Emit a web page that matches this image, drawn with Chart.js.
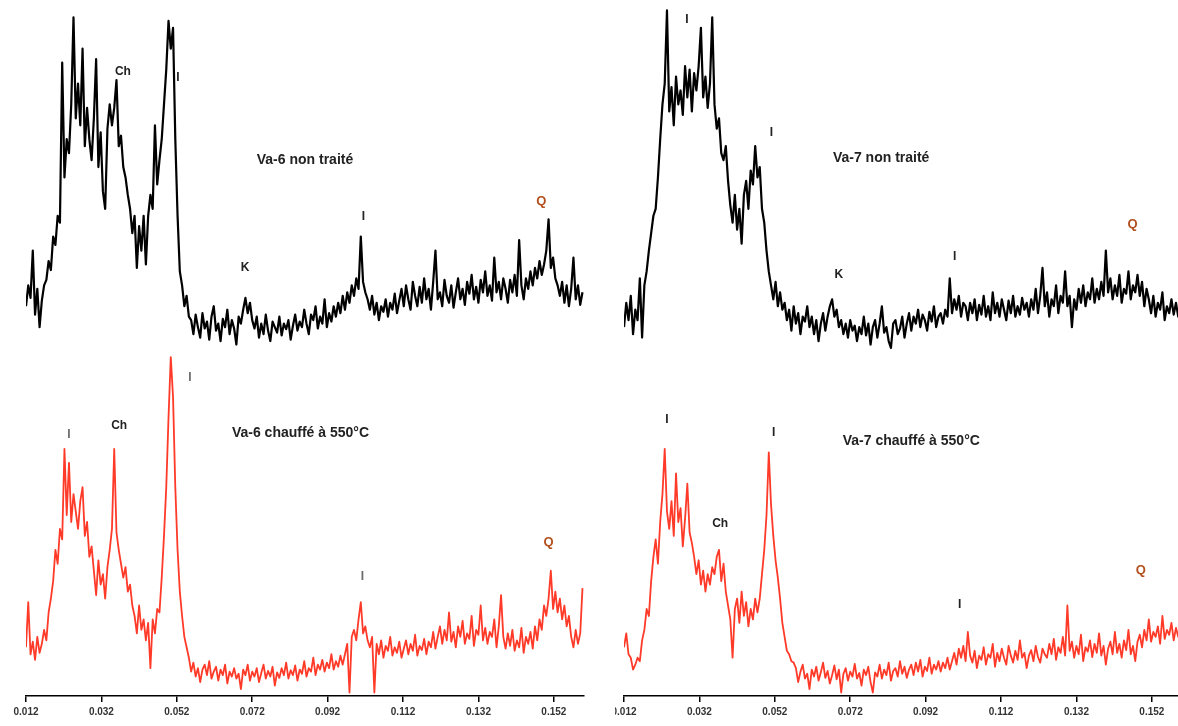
<!DOCTYPE html>
<html lang="fr">
<head>
<meta charset="utf-8">
<title>Va-6 / Va-7</title>
<script src="https://cdn.jsdelivr.net/npm/chart.js@4.4.1/dist/chart.umd.min.js"></script>
<style>
    html, body { margin: 0; padding: 0; background: #fff; overflow: hidden; }
    #left { position: absolute; left: 0; top: 0; }
    #rightClip { position: absolute; left: 615px; top: 0; width: 563px; height: 726px; overflow: hidden; }
    #right { position: absolute; left: -17px; top: 0; }
</style>
</head>
<body>
<canvas id="left" width="590" height="726"></canvas>
<div id="rightClip"><canvas id="right" width="590" height="726"></canvas></div>
<script>
"use strict";

// sampling grid of the scans (2-theta scale of the original plot)
const X_START = 0.012;
const X_STEP = 0.0006;
const X_MIN = 0.012;
const X_MAX = 0.160;
const TICK_VALUES = [0.012, 0.032, 0.052, 0.072, 0.092, 0.112, 0.132, 0.152];

// --- Va-6, untreated (black)
const VA6_RAW = [
    560, 590, 572, 640, 548, 585, 530, 568, 590, 598,
    625, 612, 660, 648, 690, 680, 910, 745, 800, 780,
    850, 975, 830, 880, 820, 930, 790, 845, 800, 770,
    830, 915, 760, 810, 725, 700, 815, 850, 820, 845,
    885, 790, 805, 760, 745, 720, 700, 665, 690, 615,
    675, 640, 690, 620, 690, 720, 700, 820, 735, 770,
    800, 850, 900, 970, 930, 960, 800, 690, 610, 590,
    560, 575, 545, 540, 520, 548, 530, 515, 550, 528,
    538, 512, 545, 560, 525, 535, 510, 542, 530, 555,
    520, 540, 528, 505, 545, 535, 555, 572, 550, 565,
    540, 528, 545, 515, 535, 520, 548, 525, 510, 538,
    530, 522, 545, 518, 535, 527, 540, 512, 532, 548,
    525, 538, 530, 555, 535, 520, 548, 540, 560, 528,
    545, 535, 570, 530, 550, 538, 560, 545, 565, 550,
    575, 555, 580, 565, 590, 575, 600, 585, 660, 595,
    580, 570, 555, 575, 548, 565, 540, 560, 552, 570,
    545, 565, 555, 578, 550, 568, 585, 560, 590, 570,
    555, 595, 575, 560, 588, 565, 600, 570, 585, 555,
    595, 640, 570, 580, 560, 598, 575, 565, 590, 558,
    580, 600, 570, 585, 562, 595, 578, 605, 570, 588,
    565, 598, 580, 610, 575, 590, 568, 630, 580, 595,
    570, 600, 585, 565, 598, 580, 605, 575, 655, 590,
    570, 600, 585, 610, 590, 615, 600, 625, 605, 620,
    640, 685, 615, 630, 600, 590, 575, 595, 565, 590,
    560, 585, 630, 570, 590, 562, 580,
];

// --- Va-6, heated to 550 C (red)
const VA6_HEATED = [
    70, 135, 60, 78, 52, 85, 62, 75, 95, 80,
    120, 140, 165, 210, 190, 240, 225, 355, 260, 335,
    250, 290, 265, 240, 280, 300, 230, 250, 200, 215,
    180, 145, 195, 160, 175, 140, 185, 210, 240, 355,
    235, 210, 190, 170, 185, 150, 160, 130, 115, 90,
    130, 95, 110, 80, 105, 40, 110, 90, 125, 120,
    170, 230, 300, 400, 487, 430, 300, 210, 150, 115,
    85, 70, 55, 35, 48, 28, 40, 20, 38, 45,
    30, 50, 25, 35, 42, 22, 38, 30, 45, 18,
    35, 28, 40, 25, 32, 10, 38, 30, 45, 22,
    35, 28, 40, 20, 33, 45, 25, 36, 28, 42,
    15, 34, 26, 40, 30, 48, 25, 37, 30, 44,
    22, 38, 32, 50, 28, 40, 35, 55, 30, 45,
    38, 52, 35, 48, 40, 60, 38, 50, 42, 58,
    45, 60, 75, 5, 85, 95, 80, 110, 135, 90,
    100, 80, 70, 85, 5, 75, 60, 80, 55, 72,
    65, 85, 58, 70, 62, 78, 55, 68, 80, 60,
    75, 65, 88, 58, 72, 66, 82, 60, 78, 70,
    92, 68, 85, 100, 75, 95, 80, 120, 78, 92,
    70, 100, 85, 108, 75, 90, 82, 115, 72, 95,
    88, 130, 80, 98, 75, 92, 85, 110, 70, 100,
    145, 85, 68, 90, 72, 95, 65, 80, 70, 98,
    62, 85, 75, 92, 68, 100, 80, 110, 95, 130,
    115, 140, 180, 125, 150, 120, 140, 110, 130, 100,
    115, 85, 70, 95, 75, 90, 155,
];

// --- Va-7, untreated (black)
const VA7_RAW = [
    530, 565, 540, 575, 520, 555, 540, 600, 515, 590,
    610, 640, 665, 690, 700, 745, 800, 850, 880, 985,
    840, 875, 820, 890, 850, 870, 835, 905, 860, 900,
    840, 895, 870, 905, 960, 860, 890, 845, 880, 975,
    850, 815, 830, 780, 770, 790, 740, 705, 680, 720,
    670, 700, 650, 720, 740, 700, 755, 735, 790, 745,
    760, 700, 680, 640, 610, 590, 570, 595, 560, 580,
    555, 565, 540, 555, 525, 560, 535, 550, 520, 545,
    538, 560, 530, 545, 520, 540, 510, 535, 550, 525,
    545, 560, 570, 545, 555, 530, 540, 520, 535, 515,
    540, 525, 532, 510, 530, 520, 545, 518, 535, 505,
    530, 540, 515, 535, 560, 522, 530, 510, 500, 535,
    540, 520, 528, 545, 515, 535, 550, 525, 545, 535,
    555, 530, 548, 540, 525, 552, 538, 560, 530, 545,
    550, 535, 555, 545, 600, 550, 570, 555, 575, 545,
    565, 560, 540, 565, 550, 570, 540, 562, 548, 575,
    545, 560, 540, 580, 550, 565, 545, 570, 555, 540,
    568, 550, 575, 545, 560, 548, 572, 555, 565, 545,
    570, 555, 585, 550, 575, 615, 560, 580, 545, 570,
    560, 590, 550, 575, 565, 610, 560, 575, 530, 570,
    555, 585, 565, 590, 560, 580, 570, 600, 565, 585,
    570, 595, 575, 640, 580, 600, 570, 590, 575, 605,
    565, 585, 578, 610, 570, 590, 580, 605, 575, 595,
    560, 585, 570, 550, 575, 545, 565, 555, 580, 540,
    560, 550, 570, 548, 565, 545, 560,
];

// --- Va-7, heated to 550 C (red)
const VA7_HEATED = [
    70, 90, 60, 55, 38, 45, 55, 50, 80, 95,
    125, 115, 165, 200, 225, 190, 250, 290, 355, 265,
    240, 280, 230, 320, 250, 270, 215, 255, 305, 235,
    220, 200, 175, 195, 160, 180, 150, 175, 160, 185,
    175, 200, 210, 165, 190, 150, 130, 110, 55, 125,
    140, 105, 150, 115, 135, 100, 125, 110, 140, 120,
    140, 175, 210, 260, 350, 275, 230, 195, 170, 140,
    105, 85, 65, 60, 50, 48, 40, 20, 35, 45,
    25, 32, 10, 38, 28, 42, 22, 34, 48, 26,
    36, 18, 30, 44, 24, 38, 5, 32, 40, 22,
    35, 28, 46, 25, 33, 15, 38, 30, 42, 20,
    5, 34, 28, 45, 25, 38, 30, 48, 22, 36,
    40, 28, 50, 32, 42, 26, 38, 45, 30, 48,
    35, 52, 28, 42, 36, 55, 32, 45, 38, 50,
    35, 48, 40, 55, 38, 50, 62, 45, 68, 55,
    72, 50, 92, 58, 48, 65, 40, 58, 52, 70,
    45, 60, 55, 75, 42, 62, 50, 68, 55, 45,
    72, 58, 48, 65, 52, 80, 55, 62, 40, 58,
    66, 50, 72, 56, 48, 68, 60, 55, 75, 60,
    82, 52, 70, 62, 85, 58, 130, 65, 78, 55,
    72, 60, 88, 50, 70, 64, 80, 56, 75, 62,
    90, 58, 72, 45, 68, 78, 60, 92, 62, 75,
    55, 80, 66, 95, 60, 72, 50, 78, 88, 70,
    95, 80, 110, 78, 92, 85, 100, 75, 115, 82,
    95, 88, 105, 80, 98, 85, 110,
];

// peak names and sample captions, placed in data units
const VA6_LABELS = [
    { text: "Ch", x: 0.0377, y: 897, kind: "peak" },
    { text: "I", x: 0.0523, y: 888, kind: "peak" },
    { text: "Va-6 non traité", x: 0.0860, y: 770, kind: "title" },
    { text: "K", x: 0.0701, y: 615, kind: "peak" },
    { text: "I", x: 0.1015, y: 688, kind: "peak" },
    { text: "Q", x: 0.1487, y: 710, kind: "quartz" },
    { text: "I", x: 0.0234, y: 376, kind: "peakGrey" },
    { text: "Ch", x: 0.0367, y: 388, kind: "peak" },
    { text: "I", x: 0.0555, y: 458, kind: "peakGrey" },
    { text: "Va-6 chauffé à 550°C", x: 0.0848, y: 378, kind: "title" },
    { text: "I", x: 0.1012, y: 172, kind: "peakGrey" },
    { text: "Q", x: 0.1506, y: 220, kind: "quartz" },
];

const VA7_LABELS = [
    { text: "I", x: 0.0287, y: 971, kind: "peak" },
    { text: "I", x: 0.0511, y: 809, kind: "peak" },
    { text: "Va-7 non traité", x: 0.0802, y: 773, kind: "title" },
    { text: "K", x: 0.0690, y: 606, kind: "peak" },
    { text: "I", x: 0.0997, y: 631, kind: "peak" },
    { text: "Q", x: 0.1469, y: 678, kind: "quartz" },
    { text: "I", x: 0.0234, y: 397, kind: "peak" },
    { text: "I", x: 0.0517, y: 379, kind: "peak" },
    { text: "Va-7 chauffé à 550°C", x: 0.0882, y: 366, kind: "title" },
    { text: "Ch", x: 0.0375, y: 247, kind: "peak" },
    { text: "I", x: 0.1010, y: 131, kind: "peak" },
    { text: "Q", x: 0.1491, y: 181, kind: "quartz" },
];

const FONT = "'Liberation Sans', Arial, sans-serif";
const LABEL_STYLES = {
    title: { font: "bold 14px " + FONT, color: "#222" },
    peak: { font: "bold 12px " + FONT, color: "#222" },
    peakGrey: { font: "bold 12px " + FONT, color: "#6a6a6a" },
    quartz: { font: "bold 13px " + FONT, color: "#b4501e" },
};

function toPoints(values) {
    return values.map((v, i) => ({ x: X_START + i * X_STEP, y: v }));
}

function labelPlugin(items) {
    return {
        id: "peakLabels",
        afterDatasetsDraw(chart) {
            const { ctx } = chart;
            const xs = chart.scales.x;
            const ys = chart.scales.y;
            ctx.save();
            ctx.textAlign = "center";
            ctx.textBaseline = "middle";
            items.forEach((item) => {
                const st = LABEL_STYLES[item.kind];
                ctx.font = st.font;
                ctx.fillStyle = st.color;
                ctx.fillText(item.text, xs.getPixelForValue(item.x), ys.getPixelForValue(item.y));
            });
            ctx.restore();
        },
    };
}

function makePanel(canvasId, raw, heated, labels) {
    const ctx = document.getElementById(canvasId).getContext("2d");
    return new Chart(ctx, {
        type: "line",
        data: {
            datasets: [
                {
                    data: toPoints(raw),
                    borderColor: "#000",
                    borderWidth: 2.2,
                    borderJoinStyle: "round",
                    pointRadius: 0,
                    tension: 0,
                },
                {
                    data: toPoints(heated),
                    borderColor: "rgb(255, 58, 40)",
                    borderWidth: 1.8,
                    borderJoinStyle: "round",
                    pointRadius: 0,
                    tension: 0,
                },
            ],
        },
        options: {
            responsive: false,
            animation: false,
            layout: { padding: { left: 26, right: 6, top: 0, bottom: 0 } },
            plugins: { legend: { display: false }, tooltip: { enabled: false } },
            scales: {
                x: {
                    type: "linear",
                    min: X_MIN,
                    max: X_MAX,
                    afterBuildTicks: (scale) => {
                        scale.ticks = TICK_VALUES.map((v) => ({ value: v }));
                    },
                    afterFit: (scale) => {
                        scale.height = 30;
                    },
                    ticks: {
                        autoSkip: false,
                        maxRotation: 0,
                        padding: 4,
                        color: "#333",
                        font: { family: FONT, size: 10, weight: "bold" },
                        callback: (v) => Number(v).toFixed(3),
                    },
                    grid: {
                        drawOnChartArea: false,
                        drawTicks: true,
                        tickLength: 6,
                        color: "#000",
                        lineWidth: 1.5,
                    },
                    border: { display: true, color: "#000", width: 1.5 },
                },
                y: { display: false, min: 0, max: 1000 },
            },
        },
        plugins: [labelPlugin(labels)],
    });
}

makePanel("left", VA6_RAW, VA6_HEATED, VA6_LABELS);
makePanel("right", VA7_RAW, VA7_HEATED, VA7_LABELS);
</script>
</body>
</html>
